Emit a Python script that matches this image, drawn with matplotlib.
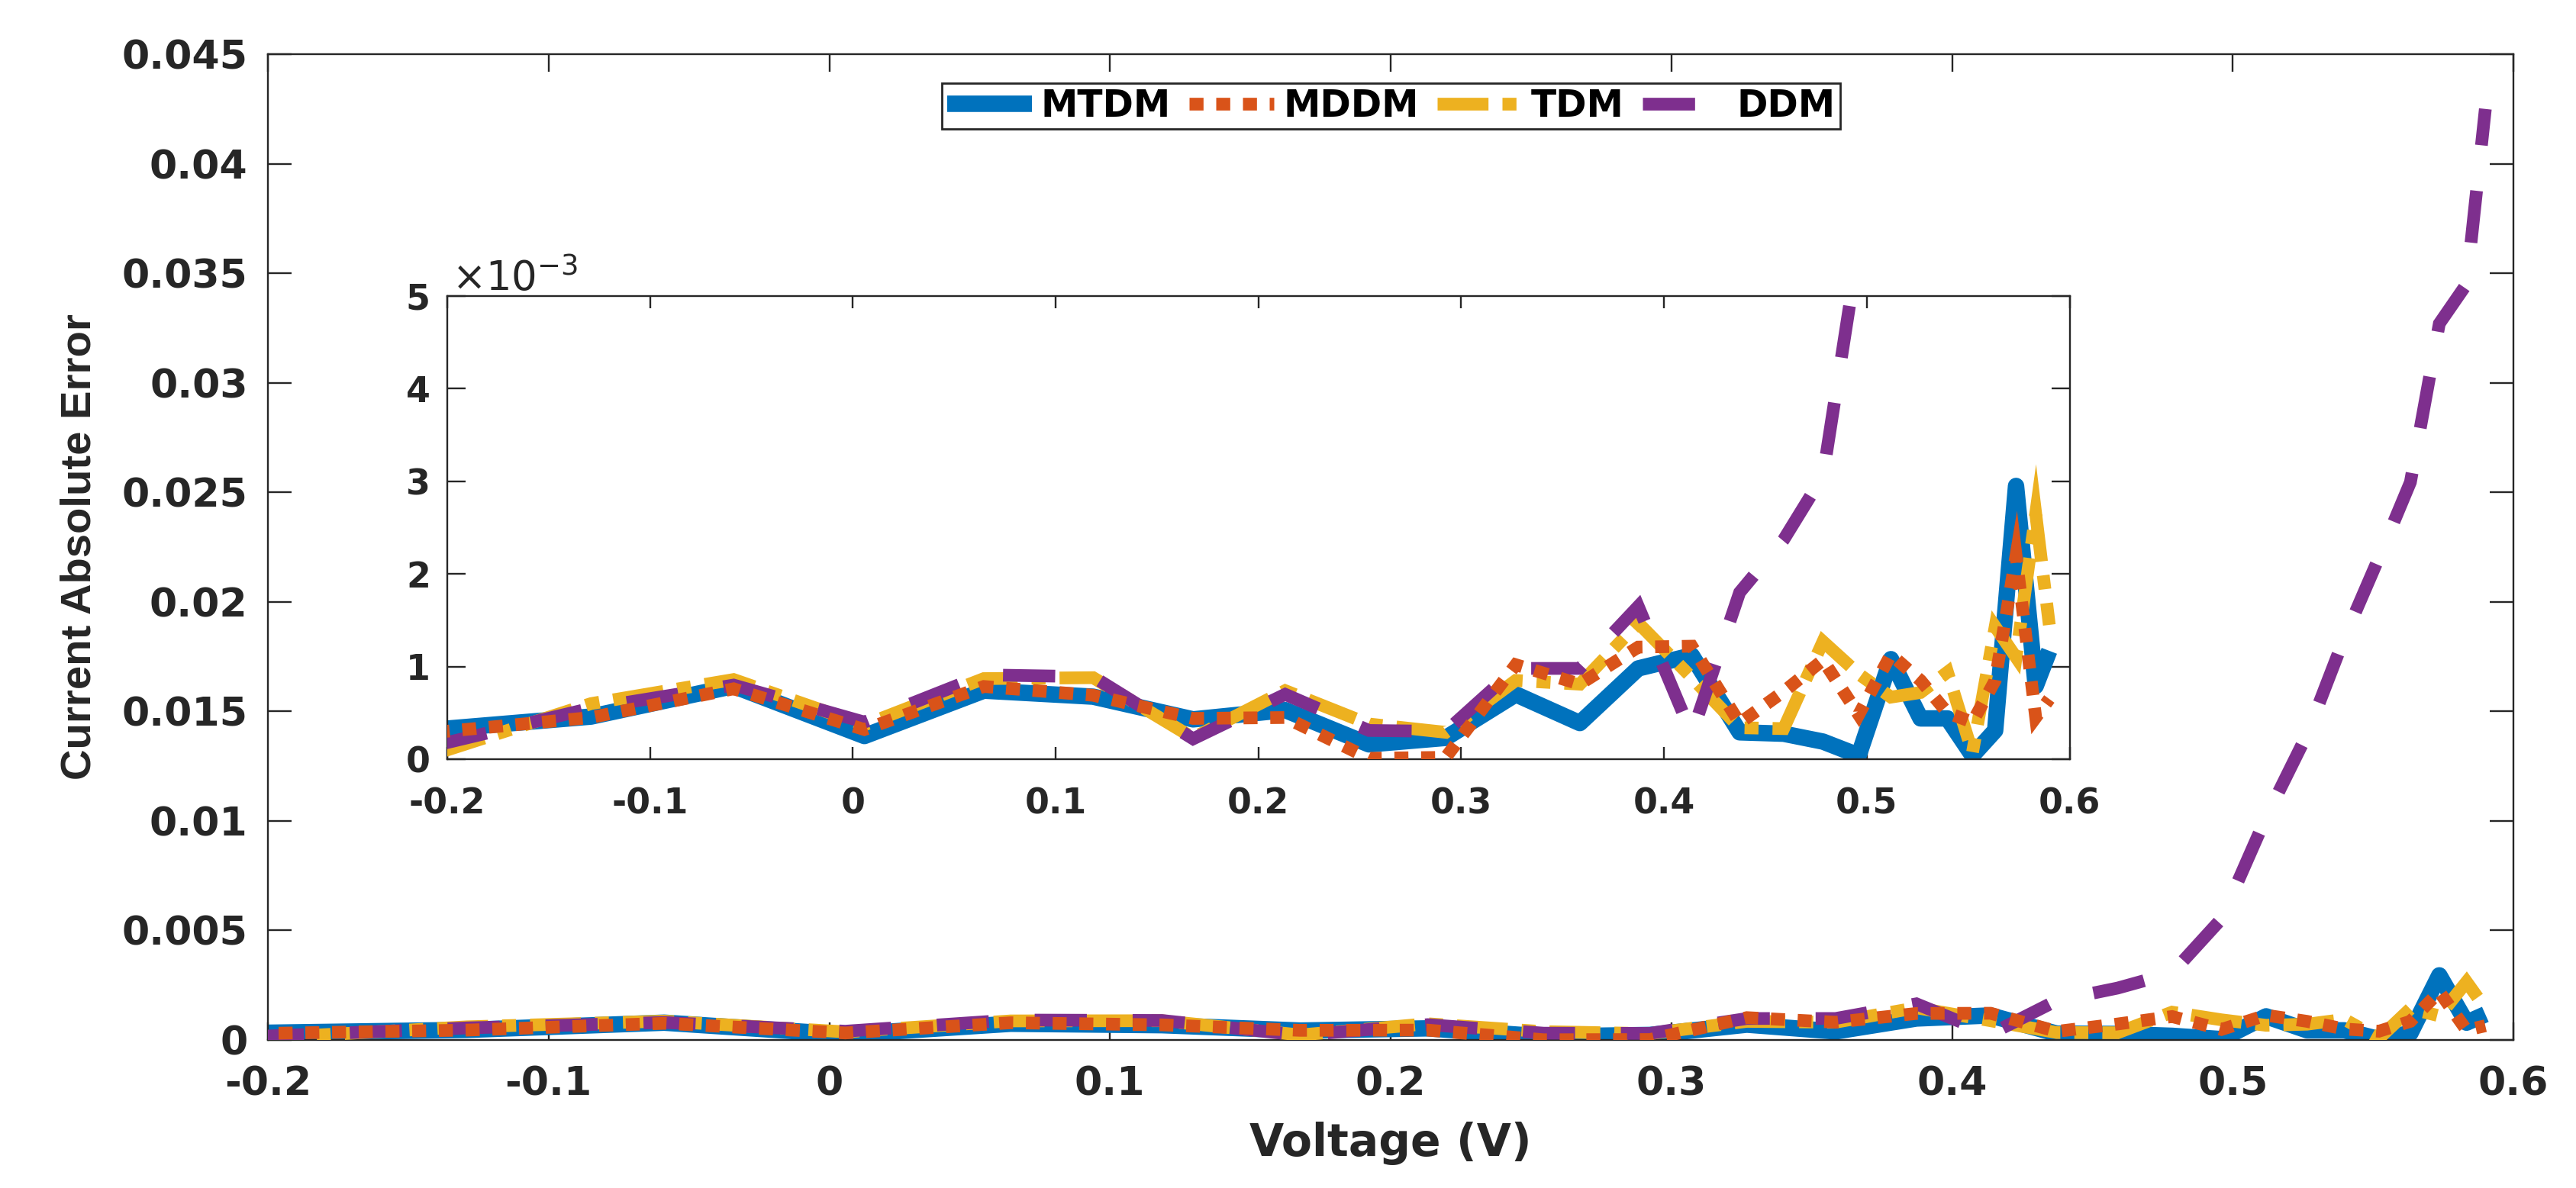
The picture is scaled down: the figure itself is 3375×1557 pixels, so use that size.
import matplotlib
matplotlib.use("Agg")
import matplotlib.pyplot as plt
import numpy as np

plt.rcParams['axes.unicode_minus'] = False
plt.rcParams['font.family'] = ['DejaVu Sans']

# measured voltage points (V)
voltage = [-0.2057, -0.1291, -0.0588, 0.0057, 0.0646, 0.1185, 0.1678, 0.2132,
           0.2545, 0.2924, 0.3269, 0.3585, 0.3873, 0.4137, 0.4373, 0.4590,
           0.4784, 0.4960, 0.5119, 0.5265, 0.5398, 0.5521, 0.5633, 0.5736,
           0.5833, 0.5900]

# current absolute error of each model, read in units of 1e-3
mtdm_err = [0.32, 0.46, 0.79, 0.25, 0.74, 0.675, 0.43, 0.53, 0.16, 0.23, 0.70,
            0.39, 0.98, 1.12, 0.29, 0.275, 0.19, 0.04, 1.08, 0.44, 0.44, 0.04,
            0.31, 2.95, 0.79, 1.17]
mddm_err = [0.29, 0.45, 0.76, 0.32, 0.785, 0.69, 0.44, 0.45, 0.01, 0.02, 1.02,
            0.81, 1.21, 1.22, 0.39, 0.73, 1.07, 0.48, 1.13, 0.85, 0.50, 0.40,
            0.85, 2.20, 0.45, 0.65]
tdm_err = [0.06, 0.60, 0.86, 0.37, 0.87, 0.88, 0.23, 0.74, 0.38, 0.29, 0.85,
           0.81, 1.47, 0.88, 0.34, 0.33, 1.27, 0.92, 0.67, 0.72, 0.94, 0.07,
           1.43, 1.10, 2.65, 1.45]
ddm_err = [0.15, 0.55, 0.80, 0.40, 0.91, 0.89, 0.22, 0.70, 0.31, 0.30, 0.98,
           0.98, 1.65, 0.27, 1.80, 2.37, 3.06, 5.53, 10.17, 13.95, 18.37, 22.02,
           25.46, 32.7, 34.5, 42.5]

labels = ["MTDM", "MDDM", "TDM", "DDM"]

x_ticks = [-0.2, -0.1, 0, 0.1, 0.2, 0.3, 0.4, 0.5, 0.6]
x_ticklabels = ["-0.2", "-0.1", "0", "0.1", "0.2", "0.3", "0.4", "0.5", "0.6"]
main_y_ticks = [0, 0.005, 0.01, 0.015, 0.02, 0.025, 0.03, 0.035, 0.04, 0.045]
main_y_ticklabels = ["0", "0.005", "0.01", "0.015", "0.02", "0.025", "0.03",
                     "0.035", "0.04", "0.045"]
inset_y_ticks = [0, 0.001, 0.002, 0.003, 0.004, 0.005]
inset_y_ticklabels = ["0", "1", "2", "3", "4", "5"]

#styles
colors = ["#0072BD", "#D95319", "#EDB120", "#7E2F8E"]
styles = ["-", (0, (1.1, 1.0)), (0, (4.0, 1.1, 1.1, 1.1)), (0, (4.1, 3.6))]
widths = [15.5, 12, 12, 12]
zorders = [2, 5, 3, 4]
dark = "#262626"

errors = [np.array(mtdm_err) * 1e-3, np.array(mddm_err) * 1e-3,
          np.array(tdm_err) * 1e-3, np.array(ddm_err) * 1e-3]

fig = plt.figure(figsize=(33.75, 15.57), dpi=100)
ax = fig.add_axes([351 / 3375, 1 - 1363 / 1557, 2942 / 3375, 1292 / 1557])
ax_in = fig.add_axes([586 / 3375, 1 - 995 / 1557, 2125.5 / 3375, 607 / 1557])

handles = []
for a in (ax, ax_in):
    for i in range(4):
        line, = a.plot(voltage, errors[i], color=colors[i], linestyle=styles[i],
                       linewidth=widths[i], zorder=zorders[i], label=labels[i],
                       solid_joinstyle="round", solid_capstyle="butt",
                       dash_joinstyle="miter")
        if a is ax:
            handles.append(line)


def style_axes(a, ylen, xlen, xpad, ypad, size):
    for s in a.spines.values():
        s.set_color(dark)
        s.set_linewidth(1.7)
    a.tick_params(axis="both", direction="in", top=True, right=True,
                  width=1.7, color=dark, labelcolor=dark, labelsize=size)
    a.tick_params(axis="x", length=xlen, pad=xpad)
    a.tick_params(axis="y", length=ylen, pad=ypad)
    for t in a.get_xticklabels() + a.get_yticklabels():
        t.set_fontweight("bold")


ax.set_xlim(-0.2, 0.6)
ax.set_ylim(0, 0.045)
ax.set_xticks(x_ticks)
ax.set_xticklabels(x_ticklabels)
ax.set_yticks(main_y_ticks)
ax.set_yticklabels(main_y_ticklabels)
style_axes(ax, 22, 16.5, 24, 19, 37.5)

ax.set_xlabel("Voltage (V)", fontsize=42, fontweight="bold", color=dark)
ax.xaxis.set_label_coords(0.5, -0.083)
ax.set_ylabel("Current Absolute Error", fontsize=40.5, fontweight="bold",
              color=dark, family=["Liberation Sans", "DejaVu Sans"])
ax.yaxis.set_label_coords(-0.075, 0.5)

ax_in.set_xlim(-0.2, 0.6)
ax_in.set_ylim(0, 0.005)
ax_in.set_xticks(x_ticks)
ax_in.set_xticklabels(x_ticklabels)
ax_in.set_yticks(inset_y_ticks)
ax_in.set_yticklabels(inset_y_ticklabels)
style_axes(ax_in, 17, 11.5, 26, 16, 33)
ax_in.text(0.003, 1.012, r"$\times10^{-3}$", transform=ax_in.transAxes,
           fontsize=38, ha="left", va="baseline", color=dark)

leg = ax.legend(handles, labels, loc="center", bbox_to_anchor=(0.54, 0.9107),
                bbox_transform=fig.transFigure, ncol=4,
                prop={"weight": "bold", "size": 35}, handlelength=2.28,
                handletextpad=0.25, columnspacing=0.5, borderpad=0.13,
                fancybox=False, framealpha=1, edgecolor=dark)
leg.get_frame().set_linewidth(2.0)

fig.savefig("out.png", dpi=100)
